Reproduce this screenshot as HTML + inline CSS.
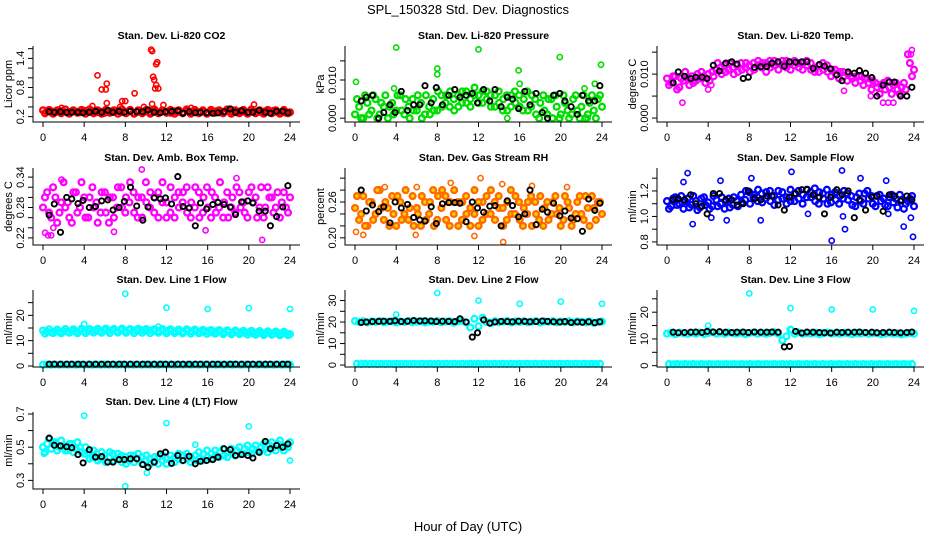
<!DOCTYPE html>
<html><head><meta charset="utf-8"><title>SPL_150328 Std. Dev. Diagnostics</title>
<style>
html,body{margin:0;padding:0;background:#fff;}
svg{display:block;font-family:"Liberation Sans",Arial,sans-serif;}
</style></head>
<body>
<svg id="chart" width="936" height="540" viewBox="0 0 936 540" xmlns="http://www.w3.org/2000/svg">
<rect width="936" height="540" fill="#fff"/>
<text x="468" y="14" text-anchor="middle" font-size="13">SPL_150328  Std. Dev. Diagnostics</text>
<text x="468" y="531" text-anchor="middle" font-size="13">Hour of Day (UTC)</text>
</svg>
<script>
// shared hours
const blackHours = [0.6,1.1,1.7,2.3,2.8,3.4,3.9,4.5,5.1,5.7,6.3,6.8,7.4,7.9,8.5,9.1,9.7,10.2,10.8,11.4,11.9,12.5,13.1,13.6,14.2,14.8,15.3,15.9,16.5,17.0,17.6,18.2,18.7,19.3,19.9,20.4,21.0,21.6,22.1,22.7,23.3,23.8];
const xTicks = [0,4,8,12,16,20,24];

// CO2
const co2A = [0.33,0.30,0.31,0.29,0.32,0.30,0.28,0.31,0.30,0.29,0.32,0.30,0.31,0.29,0.30,0.28,0.31,0.30,0.32,0.29,0.30,0.31,0.28,0.30,0.29,0.31,0.30,0.32,0.29,0.31,0.30,0.28,0.31,0.30,0.29,0.32,0.30,0.31,0.29,0.30,0.28,0.30,0.31,0.29,0.30,0.32,0.30,0.29,0.31,0.30,0.28,0.31,0.30,0.29,0.31,0.30,0.32,0.29,0.30,0.28,0.29];
const co2B = [0.27,0.34,0.26,0.33,0.27,0.35,0.26,0.33,0.28,0.34,0.26,0.35,0.27,0.33,0.26,0.34,0.28,0.33,0.26,0.35,0.27,0.34,0.26,0.33,0.27,0.34,0.26,0.35,0.27,0.33,0.28,0.34,0.26,0.33,0.27,0.35,0.26,0.34,0.27,0.33,0.26,0.34,0.28,0.33,0.27,0.35,0.26,0.33,0.27,0.34,0.26,0.35,0.27,0.33,0.26,0.34,0.27,0.33,0.26,0.34,0.27];
const co2OutH = [4.8,5.3,5.7,6.1,6.2,6.2,7.7,8.0,8.9,10.5,10.6,10.7,10.8,10.9,11.0,11.1,11.0,11.2,10.6,11.7,7.5,9.8,14.4,20.5,1.8];
const co2OutV = [0.42,1.05,0.76,0.76,0.88,0.48,0.52,0.52,0.68,1.58,1.55,1.02,0.96,0.78,1.28,1.32,0.85,0.78,0.46,0.44,0.40,0.40,0.38,0.45,0.38];
const co2Black = [0.30,0.29,0.30,0.29,0.29,0.29,0.28,0.29,0.31,0.29,0.33,0.29,0.31,0.29,0.31,0.30,0.30,0.34,0.29,0.28,0.30,0.31,0.32,0.27,0.30,0.28,0.29,0.28,0.27,0.28,0.30,0.36,0.29,0.32,0.29,0.29,0.33,0.29,0.27,0.31,0.31,0.28];

// Pressure
const presA = [0.001,0.003,0.000,0.004,0.002,0.005,0.001,0.003,0.000,0.004,0.002,0.006,0.001,0.003,0.005,0.002,0.004,0.001,0.003,0.005,0.002,0.006,0.004,0.003,0.005,0.006,0.004,0.007,0.005,0.006,0.004,0.007,0.005,0.003,0.006,0.004,0.005,0.002,0.006,0.004,0.003,0.005,0.002,0.006,0.001,0.004,0.002,0.005,0.000,0.003,0.001,0.004,0.000,0.005,0.002,0.003,0.000,0.004,0.002,0.005,0.003];
const presB = [0.005,0.000,0.006,0.001,0.006,0.000,0.004,0.006,0.003,0.001,0.006,0.002,0.005,0.000,0.002,0.006,0.000,0.006,0.001,0.002,0.007,0.003,0.006,0.007,0.002,0.003,0.007,0.004,0.003,0.008,0.006,0.004,0.007,0.006,0.003,0.007,0.002,0.006,0.003,0.007,0.006,0.002,0.007,0.003,0.005,0.000,0.006,0.001,0.005,0.006,0.000,0.006,0.002,0.001,0.006,0.000,0.006,0.001,0.006,0.000,0.006];
const presOutH = [0.1,4.0,8.0,8.0,12.0,15.9,16.0,19.9,23.9,23.3,22.3,3.8,14.8,22.6];
const presOutV = [0.0095,0.0185,0.013,0.0115,0.018,0.0125,0.009,0.016,0.014,0.009,0.0078,0.0078,0.0,0.0];
const presBlack = [0.0045,0.0055,0.006,0.0,0.0015,0.0035,0.0015,0.007,0.002,0.0035,0.0035,0.0085,0.004,0.008,0.0035,0.006,0.0075,0.0055,0.006,0.0065,0.004,0.0075,0.0045,0.0075,0.003,0.0055,0.005,0.0025,0.007,0.0035,0.0065,0.0015,0.0,0.006,0.0065,0.0045,0.003,0.001,0.006,0.0045,0.0045,0.0085];

// Li-820 Temp
const tempA = [0.009,0.008,0.0095,0.007,0.0085,0.009,0.0095,0.0085,0.009,0.0095,0.010,0.0105,0.011,0.0115,0.012,0.011,0.0115,0.012,0.0125,0.0115,0.012,0.0125,0.012,0.0115,0.0125,0.013,0.012,0.0125,0.012,0.013,0.0125,0.012,0.0115,0.0125,0.012,0.011,0.0115,0.012,0.011,0.0105,0.011,0.010,0.0105,0.0095,0.010,0.009,0.0095,0.0085,0.009,0.008,0.0085,0.007,0.0075,0.0065,0.007,0.0075,0.0065,0.007,0.0065,0.0125,0.011];
const tempB = [0.0075,0.0095,0.0065,0.009,0.0105,0.0075,0.008,0.010,0.0105,0.008,0.0085,0.0095,0.0125,0.010,0.0105,0.0125,0.010,0.0105,0.011,0.0125,0.0105,0.011,0.013,0.0125,0.0105,0.0115,0.013,0.011,0.013,0.0115,0.011,0.013,0.0125,0.011,0.013,0.0125,0.0105,0.0105,0.0125,0.012,0.0095,0.011,0.009,0.0105,0.0085,0.0095,0.008,0.0095,0.0075,0.009,0.0065,0.008,0.0055,0.008,0.0085,0.0055,0.008,0.0055,0.008,0.0145,0.0095];
const tempOutH = [1.5,4.0,4.3,17.2,19.8,21.0,21.5,22.0,23.8,23.7];
const tempOutV = [0.0035,0.0065,0.0075,0.0062,0.005,0.0035,0.0035,0.0035,0.0155,0.0145];
const tempBlack = [0.008,0.0105,0.0095,0.009,0.0093,0.0093,0.009,0.012,0.0107,0.0125,0.0128,0.0123,0.009,0.0093,0.0115,0.0117,0.0117,0.0125,0.0128,0.0118,0.0128,0.0127,0.0128,0.0128,0.0113,0.0122,0.0118,0.0112,0.0098,0.0085,0.0105,0.0102,0.0108,0.0102,0.0092,0.005,0.0075,0.0082,0.0082,0.005,0.005,0.007];

// Amb Box Temp
const ambA = [0.28,0.31,0.26,0.30,0.27,0.33,0.29,0.25,0.31,0.28,0.30,0.26,0.32,0.29,0.27,0.31,0.25,0.30,0.28,0.32,0.27,0.29,0.31,0.26,0.30,0.33,0.28,0.27,0.31,0.29,0.26,0.32,0.30,0.28,0.31,0.27,0.29,0.32,0.26,0.30,0.28,0.31,0.27,0.33,0.29,0.26,0.30,0.32,0.28,0.27,0.31,0.29,0.26,0.32,0.28,0.30,0.27,0.31,0.29,0.28,0.30];
const ambB = [0.30,0.27,0.32,0.25,0.29,0.28,0.26,0.31,0.27,0.33,0.26,0.30,0.28,0.25,0.31,0.27,0.30,0.26,0.32,0.28,0.30,0.33,0.27,0.30,0.26,0.29,0.31,0.30,0.26,0.33,0.29,0.27,0.26,0.31,0.29,0.32,0.26,0.28,0.31,0.27,0.32,0.26,0.30,0.28,0.26,0.31,0.28,0.27,0.31,0.29,0.26,0.32,0.30,0.28,0.26,0.32,0.30,0.28,0.26,0.31,0.27];
const ambOutH = [0.2,0.5,0.8,1.8,2.0,6.9,9.6,18.8,21.3,1.0,15.8];
const ambOutV = [0.23,0.225,0.225,0.335,0.33,0.232,0.355,0.338,0.216,0.24,0.235];
const ambBlack = [0.265,0.287,0.231,0.30,0.297,0.288,0.294,0.28,0.282,0.293,0.295,0.275,0.28,0.292,0.32,0.283,0.255,0.281,0.299,0.297,0.299,0.287,0.341,0.282,0.279,0.244,0.289,0.277,0.286,0.29,0.286,0.281,0.266,0.291,0.293,0.289,0.273,0.273,0.244,0.262,0.281,0.323];

// Gas Stream RH
const rhA = [0.25,0.23,0.27,0.22,0.26,0.24,0.28,0.23,0.25,0.27,0.22,0.26,0.24,0.23,0.27,0.25,0.22,0.26,0.24,0.28,0.23,0.25,0.27,0.22,0.24,0.26,0.23,0.27,0.25,0.24,0.22,0.26,0.24,0.28,0.23,0.25,0.22,0.26,0.24,0.27,0.23,0.25,0.26,0.22,0.24,0.27,0.25,0.23,0.26,0.24,0.22,0.27,0.25,0.23,0.26,0.24,0.27,0.22,0.25,0.26,0.24];
const rhB = [0.27,0.24,0.22,0.26,0.23,0.28,0.25,0.26,0.22,0.24,0.27,0.23,0.28,0.25,0.22,0.24,0.27,0.23,0.26,0.22,0.27,0.28,0.23,0.26,0.28,0.22,0.26,0.24,0.22,0.28,0.26,0.23,0.27,0.24,0.26,0.27,0.25,0.23,0.28,0.24,0.26,0.22,0.24,0.27,0.26,0.23,0.22,0.26,0.24,0.27,0.25,0.23,0.26,0.22,0.24,0.27,0.23,0.25,0.27,0.23,0.26];
const rhOutH = [0.1,0.8,2.9,6.0,5.9,9.3,12.2,14.3,14.4,17.2,20.6,11.6];
const rhOutV = [0.21,0.205,0.285,0.285,0.205,0.292,0.30,0.29,0.193,0.287,0.285,0.203];
const rhBlack = [0.28,0.245,0.255,0.244,0.252,0.225,0.26,0.25,0.256,0.234,0.23,0.228,0.252,0.224,0.257,0.259,0.259,0.258,0.227,0.26,0.25,0.243,0.253,0.254,0.22,0.262,0.254,0.235,0.24,0.28,0.222,0.248,0.243,0.258,0.237,0.245,0.233,0.232,0.211,0.265,0.246,0.258];

// Sample Flow
const sfA = [1.12,1.08,1.15,1.10,1.06,1.14,1.09,1.12,1.07,1.15,1.11,1.08,1.13,1.10,1.06,1.14,1.09,1.12,1.17,1.13,1.19,1.15,1.12,1.18,1.14,1.20,1.16,1.13,1.19,1.15,1.12,1.18,1.14,1.17,1.21,1.15,1.12,1.19,1.14,1.10,1.17,1.13,1.16,1.20,1.13,1.09,1.15,1.12,1.18,1.14,1.10,1.16,1.12,1.09,1.15,1.11,1.07,1.13,1.10,1.14,1.08];
const sfB = [1.06,1.14,1.09,1.16,1.12,1.07,1.16,1.05,1.14,1.09,1.06,1.16,1.08,1.15,1.12,1.07,1.15,1.08,1.11,1.20,1.10,1.17,1.21,1.11,1.19,1.12,1.09,1.20,1.14,1.10,1.21,1.12,1.20,1.10,1.15,1.19,1.22,1.10,1.18,1.21,1.11,1.19,1.10,1.14,1.18,1.16,1.08,1.18,1.10,1.20,1.16,1.08,1.17,1.14,1.08,1.17,1.14,1.17,1.06,1.12,1.16];
const sfOutH = [2.0,2.5,1.6,4.3,5.2,5.8,8.2,9.1,12.1,13.7,16.0,17.0,17.3,17.1,18.8,21.3,23.0,23.9,23.7,21.5];
const sfOutV = [1.34,0.94,1.27,0.99,1.28,0.97,1.30,0.97,1.35,1.02,0.81,1.36,0.90,1.00,1.30,1.28,0.92,0.84,0.99,1.02];
const sfBlack = [1.13,1.14,1.13,1.17,1.10,1.08,1.02,1.18,1.18,1.13,1.13,1.09,1.10,1.20,1.14,1.13,1.16,1.16,1.09,1.05,1.15,1.18,1.21,1.21,1.17,1.15,1.02,1.15,1.21,1.17,1.20,0.99,1.13,1.05,1.15,1.16,1.04,1.17,1.16,1.12,1.16,1.13];

// Line 1 Flow
const l1A = [14.0,13.5,13.3,13.6,13.4,13.7,13.5,13.8,13.6,13.9,13.7,13.8,14.0,13.8,13.9,14.1,13.9,14.0,13.8,14.1,13.9,14.2,14.0,13.9,14.1,13.8,14.0,13.9,13.7,14.0,13.8,13.9,13.7,13.8,13.6,13.9,13.7,13.8,13.6,13.5,13.7,13.4,13.6,13.5,13.3,13.5,13.2,13.4,13.3,13.1,13.3,13.0,13.2,13.0,12.9,13.1,12.8,13.0,12.7,12.9,12.6];
const l1B = [12.8,14.5,13.0,14.4,12.9,14.6,13.1,14.5,12.9,14.7,13.0,14.6,13.2,14.7,13.1,14.8,13.0,14.7,13.2,14.8,13.1,14.6,13.0,14.7,13.1,14.6,13.0,14.5,13.1,14.6,12.9,14.5,13.0,14.4,12.9,14.5,12.8,14.4,12.9,14.3,12.7,14.2,12.8,14.2,12.6,14.1,12.5,14.0,12.6,13.9,12.4,13.9,12.3,13.8,12.2,13.7,12.3,13.6,12.1,13.5,12.2];
const l1Z = [0.5,0.6,0.5,0.6,0.5,0.6,0.5,0.6,0.5,0.6,0.5,0.6,0.5,0.6,0.5,0.6,0.5,0.6,0.5,0.6,0.5,0.6,0.5,0.6,0.5,0.6,0.5,0.6,0.5,0.6,0.5,0.6,0.5,0.6,0.5,0.6,0.5,0.6,0.5,0.6,0.5,0.6,0.5,0.6,0.5,0.6,0.5,0.6,0.5,0.6,0.5,0.6,0.5,0.6,0.5,0.6,0.5,0.6,0.5,0.6,0.5];
const l1OutH = [4.0,8.0,11.2,12.0,16.0,20.0,24.0];
const l1OutV = [16.5,28.5,15.5,23.0,22.5,22.8,22.5];
const l1Black = [0.7,0.7,0.7,0.7,0.7,0.7,0.7,0.7,0.7,0.7,0.7,0.7,0.7,0.7,0.7,0.7,0.7,0.7,0.7,0.7,0.7,0.7,0.7,0.7,0.7,0.7,0.7,0.7,0.7,0.7,0.7,0.7,0.7,0.7,0.7,0.7,0.7,0.7,0.7,0.7,0.7,0.7];

// Line 2 Flow
const l2A = [20.5,20.0,20.4,19.8,20.3,20.1,20.5,19.9,20.2,20.4,19.8,20.3,20.0,20.5,19.9,20.2,20.4,19.8,20.3,20.1,20.5,19.9,20.2,20.4,19.7,20.3,20.6,19.8,17.5,21.5,18.0,22.0,20.0,19.5,20.4,19.9,20.2,20.5,19.8,20.3,20.0,20.4,19.9,20.2,20.5,19.8,20.3,20.1,20.4,19.9,20.2,20.0,20.4,19.8,20.3,20.1,19.9,20.2,19.6,20.0,20.2];
const l2B = [0.6,0.5,0.6,0.5,0.6,0.5,0.6,0.5,0.6,0.5,0.6,0.5,0.6,0.5,0.6,0.5,0.6,0.5,0.6,0.5,0.6,0.5,0.6,0.5,0.6,0.5,0.6,0.5,0.6,0.5,0.6,0.5,0.6,0.5,0.6,0.5,0.6,0.5,0.6,0.5,0.6,0.5,0.6,0.5,0.6,0.5,0.6,0.5,0.6,0.5,0.6,0.5,0.6,0.5,0.6,0.5,0.6,0.5,0.6,0.5,0.6];
const l2OutH = [4.0,8.0,12.0,16.0,20.0,24.0];
const l2OutV = [23.5,33.5,30.0,28.5,29.5,28.5];
const l2Black = [19.8,20.0,20.2,20.3,20.4,20.3,20.6,20.2,20.4,20.7,20.5,20.6,20.5,20.2,20.4,20.3,20.2,21.5,20.0,13.0,15.0,21.0,19.5,20.0,20.3,20.2,20.1,20.4,20.3,20.1,20.2,20.5,20.3,20.1,20.0,20.2,19.8,20.0,19.9,20.1,19.7,20.1];

// Line 3 Flow
const l3A = [12.0,12.3,11.8,12.4,12.1,11.9,12.3,12.0,12.4,11.8,12.2,12.5,12.0,12.3,11.9,12.4,12.1,12.0,12.3,11.8,12.2,12.4,12.0,12.3,11.9,12.2,12.5,12.0,9.5,11.0,13.5,12.0,12.4,11.9,12.2,12.0,12.3,11.8,12.1,12.4,12.0,12.2,11.9,12.3,12.1,11.8,12.2,12.0,12.3,11.9,12.1,12.2,11.8,12.0,12.3,11.9,12.1,11.7,12.0,12.2,11.9];
const l3B = [0.6,0.5,0.6,0.5,0.6,0.5,0.6,0.5,0.6,0.5,0.6,0.5,0.6,0.5,0.6,0.5,0.6,0.5,0.6,0.5,0.6,0.5,0.6,0.5,0.6,0.5,0.6,0.5,0.6,0.5,0.6,0.5,0.6,0.5,0.6,0.5,0.6,0.5,0.6,0.5,0.6,0.5,0.6,0.5,0.6,0.5,0.6,0.5,0.6,0.5,0.6,0.5,0.6,0.5,0.6,0.5,0.6,0.5,0.6,0.5,0.6];
const l3OutH = [4.0,8.0,12.0,12.1,16.0,20.0,24.0];
const l3OutV = [15.0,27.0,21.5,13.5,21.0,21.0,20.5];
const l3Black = [12.5,12.3,12.4,12.5,12.6,12.4,12.8,12.6,12.7,12.5,12.4,12.5,12.6,12.4,12.6,12.5,12.5,12.6,12.5,7.0,7.2,12.8,12.2,12.6,12.5,12.4,12.3,12.2,12.5,12.4,12.5,12.5,12.6,12.4,12.5,12.3,12.4,12.5,12.4,12.3,12.4,12.6];

// Line 4 (LT) Flow
const l4A = [0.50,0.52,0.49,0.53,0.50,0.51,0.48,0.52,0.49,0.50,0.46,0.47,0.44,0.46,0.43,0.45,0.44,0.46,0.43,0.45,0.44,0.42,0.45,0.43,0.44,0.42,0.43,0.41,0.44,0.42,0.43,0.42,0.44,0.43,0.45,0.43,0.44,0.45,0.43,0.46,0.44,0.46,0.45,0.47,0.45,0.47,0.46,0.48,0.46,0.49,0.47,0.49,0.48,0.50,0.49,0.51,0.50,0.52,0.50,0.51,0.53];
const l4B = [0.47,0.55,0.53,0.48,0.54,0.48,0.52,0.47,0.53,0.47,0.50,0.43,0.48,0.42,0.47,0.41,0.47,0.42,0.46,0.41,0.40,0.45,0.41,0.46,0.40,0.45,0.40,0.44,0.40,0.45,0.40,0.45,0.41,0.46,0.42,0.46,0.41,0.42,0.47,0.42,0.48,0.43,0.48,0.44,0.49,0.44,0.49,0.45,0.50,0.46,0.51,0.46,0.51,0.47,0.52,0.47,0.53,0.48,0.54,0.48,0.50];
const l4OutH = [4.0,8.0,10.1,12.0,14.8,20.0,24.0,0.1];
const l4OutV = [0.69,0.265,0.345,0.645,0.515,0.625,0.42,0.46];
const l4Black = [0.555,0.512,0.508,0.502,0.497,0.455,0.405,0.485,0.44,0.443,0.41,0.41,0.425,0.425,0.43,0.43,0.395,0.38,0.41,0.46,0.47,0.402,0.45,0.42,0.445,0.40,0.415,0.42,0.425,0.44,0.49,0.485,0.45,0.455,0.45,0.435,0.47,0.535,0.49,0.51,0.50,0.52];

// tick values
const tCO2 = [0.2,0.4,0.6,0.8,1.0,1.2,1.4,1.6], lCO2 = ["0.2","0.8","1.4"];
const tPres = [0,0.005,0.010,0.015], lPres = ["0.000","0.010"];
const tTemp = [0,0.005,0.010,0.015], lTemp = ["0.000","0.010"];
const tAmb = [0.22,0.24,0.26,0.28,0.30,0.32,0.34], lAmb = ["0.22","0.28","0.34"];
const tRH = [0.20,0.22,0.24,0.26,0.28,0.30], lRH = ["0.20","0.26"];
const tSF = [0.8,0.9,1.0,1.1,1.2,1.3], lSF = ["0.8","1.0","1.2"];
const tL1 = [0,5,10,15,20,25], lL1 = ["0","10","20"];
const tL2 = [0,5,10,15,20,25,30], lL2 = ["0","10","20","30"];
const tL3 = [0,5,10,15,20,25], lL3 = ["0","10","20"];
const tL4 = [0.3,0.4,0.5,0.6,0.7], lL4 = ["0.3","0.5","0.7"];

const panels = [
 {id:"co2",title:"Stan. Dev. Li-820 CO2",yl:"Licor ppm",col:0,row:0,ymin:0.09,ymax:1.655,color:"#ff0000",fill:"none",S:[co2A,co2B],oh:co2OutH,ov:co2OutV,k:co2Black,t:tCO2,l:lCO2},
 {id:"pressure",title:"Stan. Dev. Li-820 Pressure",yl:"kPa",col:1,row:0,ymin:-0.001,ymax:0.0189,color:"#00dd00",fill:"none",S:[presA,presB],oh:presOutH,ov:presOutV,k:presBlack,t:tPres,l:lPres},
 {id:"licor-temp",title:"Stan. Dev. Li-820 Temp.",yl:"degrees C",col:2,row:0,ymin:-0.0009,ymax:0.0164,color:"#ff00ff",fill:"none",S:[tempA,tempB],oh:tempOutH,ov:tempOutV,k:tempBlack,t:tTemp,l:lTemp},
 {id:"amb-box-temp",title:"Stan. Dev. Amb. Box Temp.",yl:"degrees C",col:0,row:1,ymin:0.206,ymax:0.358,color:"#ff00ff",fill:"none",S:[ambA,ambB],oh:ambOutH,ov:ambOutV,k:ambBlack,t:tAmb,l:lAmb},
 {id:"gas-rh",title:"Stan. Dev. Gas Stream RH",yl:"percent",col:1,row:1,ymin:0.188,ymax:0.317,color:"#ff6a00",fill:"#ffd200",S:[rhA,rhB],oh:rhOutH,ov:rhOutV,k:rhBlack,t:tRH,l:lRH},
 {id:"sample-flow",title:"Stan. Dev. Sample Flow",yl:"ml/min",col:2,row:1,ymin:0.776,ymax:1.38,color:"#0000ff",fill:"none",S:[sfA,sfB],oh:sfOutH,ov:sfOutV,k:sfBlack,t:tSF,l:lSF},
 {id:"line1-flow",title:"Stan. Dev. Line 1 Flow",yl:"ml/min",col:0,row:2,ymin:-0.4,ymax:30,color:"#00ffff",fill:"none",S:[l1A,l1B,l1Z],oh:l1OutH,ov:l1OutV,k:l1Black,t:tL1,l:lL1},
 {id:"line2-flow",title:"Stan. Dev. Line 2 Flow",yl:"ml/min",col:1,row:2,ymin:-0.9,ymax:34.9,color:"#00ffff",fill:"none",S:[l2A,l2B],oh:l2OutH,ov:l2OutV,k:l2Black,t:tL2,l:lL2},
 {id:"line3-flow",title:"Stan. Dev. Line 3 Flow",yl:"ml/min",col:2,row:2,ymin:-0.5,ymax:28.3,color:"#00ffff",fill:"none",S:[l3A,l3B],oh:l3OutH,ov:l3OutV,k:l3Black,t:tL3,l:lL3},
 {id:"line4-flow",title:"Stan. Dev. Line 4 (LT) Flow",yl:"ml/min",col:0,row:3,ymin:0.248,ymax:0.712,color:"#00ffff",fill:"none",S:[l4A,l4B],oh:l4OutH,ov:l4OutV,k:l4Black,t:tL4,l:lL4}
];

const NS = "http://www.w3.org/2000/svg";
const svg = document.getElementById("chart");
function mk(tag, attrs, parent){
  const e = document.createElementNS(NS, tag);
  for (const k in attrs) e.setAttribute(k, attrs[k]);
  (parent||svg).appendChild(e);
  return e;
}
const colLeft = [33, 345, 657];
const colRight = [300, 612, 924];
const x0 = [43, 355, 667];
const xPerHour = 247/24;
const rowTop = [46, 168, 290, 412];
const rowBot = [122, 245, 367, 489];

panels.forEach(p => {
  const g = mk("g", {});
  
  
  const xs = h => x0[p.col] + h * xPerHour;
  const top = rowTop[p.row], bot = rowBot[p.row];
  const ys = v => bot - (v - p.ymin) / (p.ymax - p.ymin) * (bot - top);
  const L = colLeft[p.col], R = colRight[p.col];
  const cx = (L + R) / 2 + 5;

  const title = mk("text", {x: cx, y: top - 7, "text-anchor": "middle", "font-size": 10.5, "font-weight": "bold"}, g);
  title.textContent = p.title;
  
  

  const pts = mk("g", {}, g);
  
  
  const dot = (h, v, stroke, fill, sw, r) => mk("circle", {cx: xs(h).toFixed(1), cy: ys(v).toFixed(1), r: r, fill: fill, stroke: stroke, "stroke-width": sw}, pts);
  p.S.forEach((arr, si) => {
    const n = arr.length;
    for (let i = 0; i < n; i++) {
      const h = si % 2 === 0 ? i * 24 / (n - 1) : (i + 0.5) * 24 / n;
      dot(h, arr[i], p.color, p.fill, 2.3, 2.9);
    }
  });
  for (let i = 0; i < p.oh.length; i++) dot(p.oh[i], p.ov[i], p.color, "none", 1.6, 2.6);
  for (let i = 0; i < p.k.length; i++) dot(blackHours[i], p.k[i], "#000", "none", 1.9, 2.6);

  const ax = mk("path", {d: `M${L},${top} L${L},${bot} L${R},${bot}`, fill: "none", stroke: "#000", "stroke-width": 1}, g);
  
  

  xTicks.forEach(t => {
    const x = xs(t);
    mk("line", {x1: x, y1: bot, x2: x, y2: bot + 5, stroke: "#000"}, g);
    const tl = mk("text", {x: x, y: bot + 19, "text-anchor": "middle", "font-size": 11}, g);
    tl.textContent = t;
    
    
  });
  p.t.forEach(t => {
    const y = ys(t);
    mk("line", {x1: L - 5, y1: y, x2: L, y2: y, stroke: "#000"}, g);
  });
  p.l.forEach(s => {
    const y = ys(parseFloat(s));
    const yl = mk("text", {x: 0, y: 0, "text-anchor": "middle", "font-size": 11, transform: `translate(${L - 9},${y}) rotate(-90)`}, g);
    yl.textContent = s;
    
    
  });
  const yt = mk("text", {x: 0, y: 0, "text-anchor": "middle", "font-size": 11, transform: `translate(${L - 21},${(top + bot) / 2}) rotate(-90)`}, g);
  yt.textContent = p.yl;
  
  
});
</script>
</body></html>
